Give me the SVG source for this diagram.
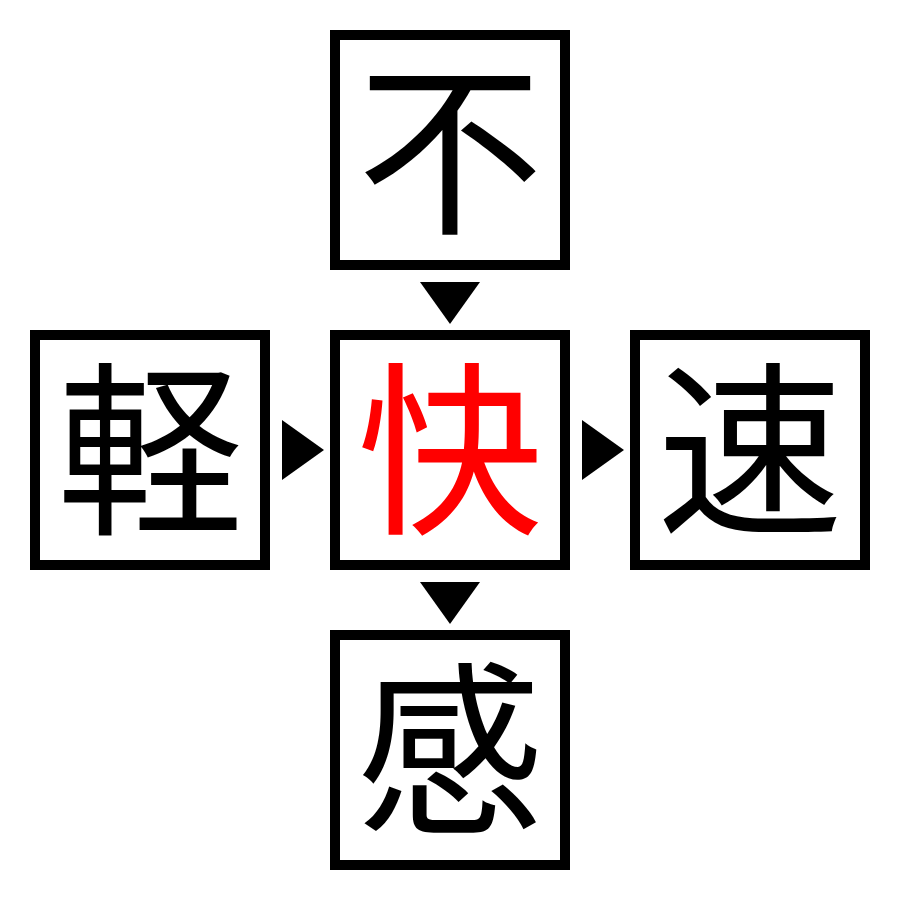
<svg xmlns="http://www.w3.org/2000/svg" width="900" height="900" viewBox="0 0 900 900">
<style>
.box{fill:#fff;stroke:#000;stroke-width:10}
.ch{font-family:"Noto Sans CJK JP","Noto Sans CJK SC",sans-serif;font-size:186px;text-anchor:middle;fill:#000}
.red{fill:#ff0000}
.arr{fill:#000}
</style>
<rect width="900" height="900" fill="#fff"/>
<g id="connectors">
<polygon class="arr" points="420,282 480,282 450,324"/>
<polygon class="arr" points="420,582 480,582 450,624"/>
<polygon class="arr" points="282,420 282,480 324,450"/>
<polygon class="arr" points="582,420 582,480 624,450"/>
</g>
<g id="node-top"><rect class="box" x="335" y="35" width="230" height="230"/><text class="ch" x="450" y="220">不</text></g>
<g id="node-left"><rect class="box" x="35" y="335" width="230" height="230"/><text class="ch" x="150" y="520">軽</text></g>
<g id="node-center"><rect class="box" x="335" y="335" width="230" height="230"/><text class="ch red" x="450" y="520">快</text></g>
<g id="node-right"><rect class="box" x="635" y="335" width="230" height="230"/><text class="ch" x="750" y="520">速</text></g>
<g id="node-bottom"><rect class="box" x="335" y="635" width="230" height="230"/><text class="ch" x="450" y="820">感</text></g>
</svg>
